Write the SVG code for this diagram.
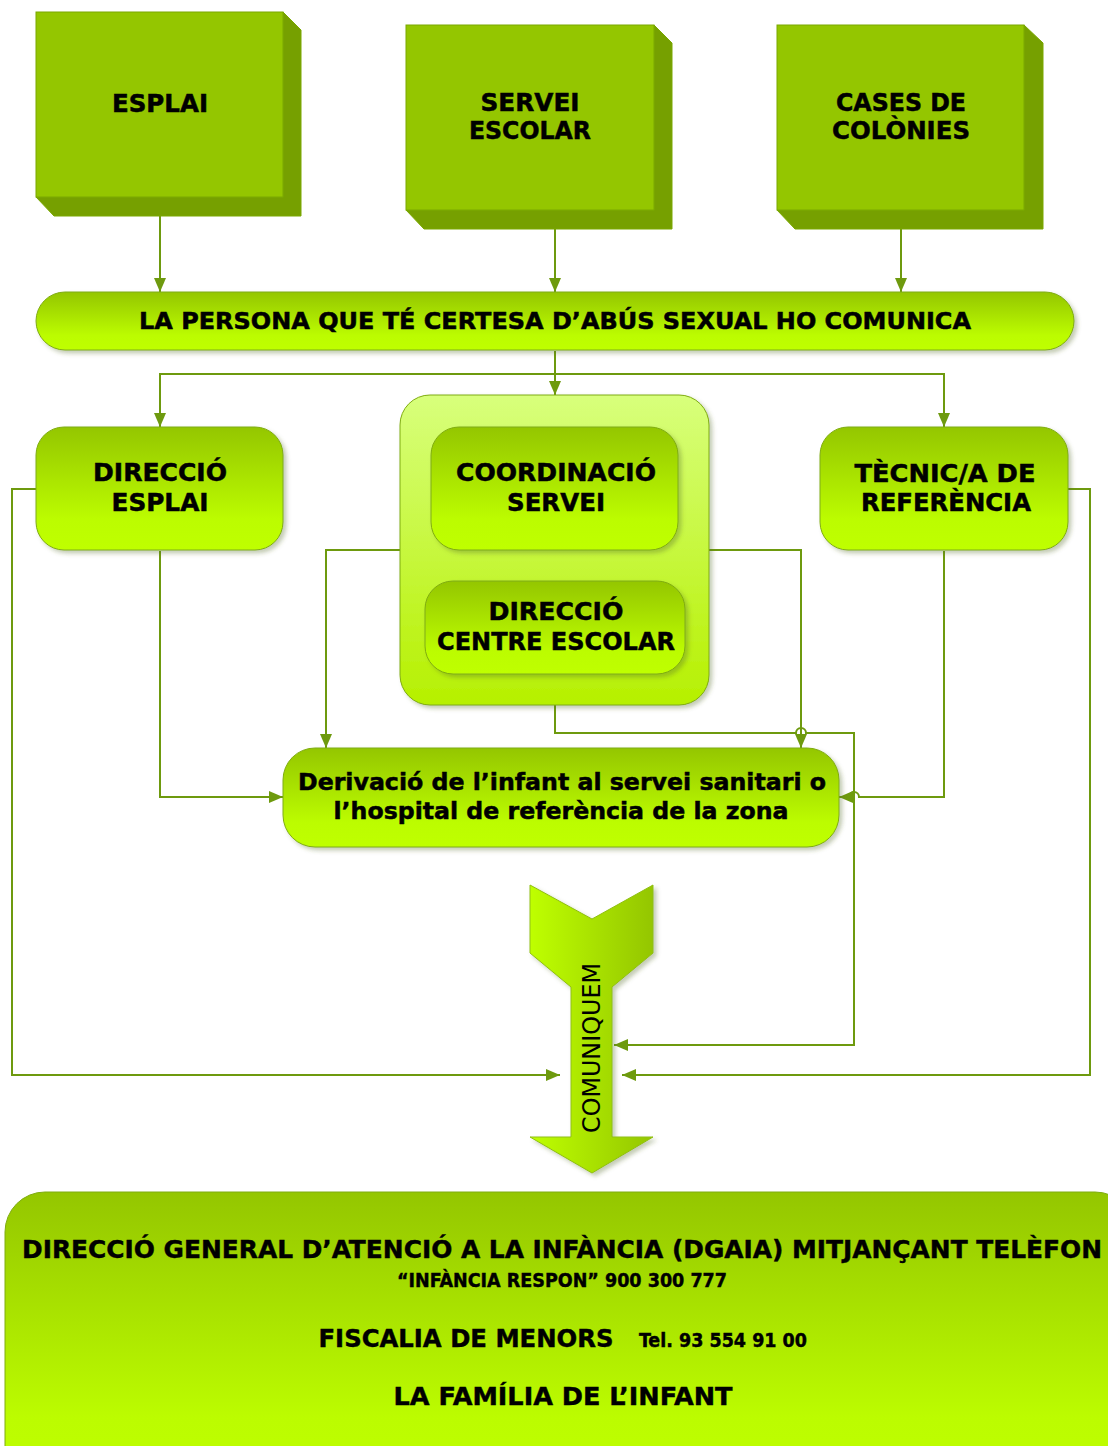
<svg xmlns="http://www.w3.org/2000/svg" width="1108" height="1446" viewBox="0 0 1108 1446">
<defs>
<linearGradient id="gv" x1="0" y1="0" x2="0" y2="1"><stop offset="0" stop-color="#94c600"/><stop offset="0.75" stop-color="#bcfc00"/><stop offset="1" stop-color="#bfff00"/></linearGradient>
<linearGradient id="gc" x1="0" y1="0" x2="0" y2="1"><stop offset="0" stop-color="#d8ff7c"/><stop offset="1" stop-color="#b6f000"/></linearGradient>
<linearGradient id="gh" x1="0" y1="0" x2="1" y2="0"><stop offset="0" stop-color="#bfff00"/><stop offset="1" stop-color="#94c600"/></linearGradient>
<filter id="sh" x="-10%" y="-10%" width="125%" height="130%"><feDropShadow dx="3" dy="3" stdDeviation="2" flood-color="#556b2f" flood-opacity="0.35"/></filter>
<marker id="ar" viewBox="0 0 14 12" refX="14" refY="6" markerWidth="14" markerHeight="12" markerUnits="userSpaceOnUse" orient="auto"><path d="M0,0 L14,6 L0,12 Z" fill="#6e9a0e"/></marker>
</defs>
<style>
.cube-f{fill:#94c600;stroke:#7aa800;stroke-width:1}
.cube-s{fill:#76a000;stroke:#7aa800;stroke-width:1}
.rb{fill:url(#gv);stroke:#7fac10;stroke-width:1;filter:url(#sh)}
.t{font-family:"DejaVu Sans","Verdana",sans-serif;font-weight:bold;fill:#000;stroke:#000;stroke-width:0.5;text-anchor:middle}
.tc{font-family:"DejaVu Sans Condensed","DejaVu Sans",sans-serif;font-weight:bold;fill:#000;stroke:#000;stroke-width:0.4;text-anchor:middle}
.c{fill:none;stroke:#6e9a0e;stroke-width:2}
</style>

<g id="connectors">
<path class="c" d="M160,198 V292" marker-end="url(#ar)"/>
<path class="c" d="M555,211 V292" marker-end="url(#ar)"/>
<path class="c" d="M901,211 V292" marker-end="url(#ar)"/>
<path class="c" d="M555,351 V395" marker-end="url(#ar)"/>
<path class="c" d="M555,374 H160 V427" marker-end="url(#ar)"/>
<path class="c" d="M555,374 H944 V427" marker-end="url(#ar)"/>
<path class="c" d="M36,489 H12 V1075 H560" marker-end="url(#ar)"/>
<path class="c" d="M160,551 V797 H283" marker-end="url(#ar)"/>
<path class="c" d="M400,550 H326 V748" marker-end="url(#ar)"/>
<path class="c" d="M709,550 H801 V748" marker-end="url(#ar)"/>
<path class="c" d="M555,705 V733 H796 A5,5 0 0 1 806,733 H854 V1045 H614" marker-end="url(#ar)"/>
<path class="c" d="M944,551 V797 H859 A5,5 0 0 0 849,797 H839" marker-end="url(#ar)"/>
<path class="c" d="M1068,489 H1090 V1075 H622" marker-end="url(#ar)"/>
</g>

<g id="esplai">
<polygon class="cube-s" points="283,12 301,30 301,216 54,216 36,197 283,197"/>
<rect class="cube-f" x="36" y="12" width="247" height="185"/>
<text class="t" x="160" y="112" font-size="24" textLength="96" lengthAdjust="spacingAndGlyphs">ESPLAI</text>
</g>
<g id="servei-escolar">
<polygon class="cube-s" points="654,25 672,43 672,229 424,229 406,210 654,210"/>
<rect class="cube-f" x="406" y="25" width="248" height="185"/>
<text class="t" x="530" y="111" font-size="24" textLength="99" lengthAdjust="spacingAndGlyphs">SERVEI</text>
<text class="t" x="530" y="139" font-size="24" textLength="122" lengthAdjust="spacingAndGlyphs">ESCOLAR</text>
</g>
<g id="cases-colonies">
<polygon class="cube-s" points="1024,25 1043,43 1043,229 795,229 777,210 1024,210"/>
<rect class="cube-f" x="777" y="25" width="247" height="185"/>
<text class="t" x="901" y="111" font-size="24" textLength="130" lengthAdjust="spacingAndGlyphs">CASES DE</text>
<text class="t" x="901" y="139" font-size="24" textLength="138" lengthAdjust="spacingAndGlyphs">COLÒNIES</text>
</g>

<g id="persona">
<rect class="rb" x="36" y="292" width="1038" height="58" rx="29"/>
<text class="t" x="555" y="329" font-size="23" textLength="832" lengthAdjust="spacingAndGlyphs">LA PERSONA QUE TÉ CERTESA D’ABÚS SEXUAL HO COMUNICA</text>
</g>

<g id="direccio-esplai">
<rect class="rb" x="36" y="427" width="247" height="123" rx="28"/>
<text class="t" x="160" y="481" font-size="25" textLength="134" lengthAdjust="spacingAndGlyphs">DIRECCIÓ</text>
<text class="t" x="160" y="511" font-size="25" textLength="97" lengthAdjust="spacingAndGlyphs">ESPLAI</text>
</g>

<g id="container">
<rect x="400" y="395" width="309" height="310" rx="30" fill="url(#gc)" stroke="#7fac10" stroke-width="1" filter="url(#sh)"/>
</g>
<g id="coordinacio">
<rect class="rb" x="431" y="427" width="247" height="123" rx="28"/>
<text class="t" x="556" y="481" font-size="25" textLength="200" lengthAdjust="spacingAndGlyphs">COORDINACIÓ</text>
<text class="t" x="556" y="511" font-size="25" textLength="98" lengthAdjust="spacingAndGlyphs">SERVEI</text>
</g>
<g id="direccio-centre">
<rect class="rb" x="425" y="581" width="260" height="93" rx="28"/>
<text class="t" x="556" y="620" font-size="25" textLength="135" lengthAdjust="spacingAndGlyphs">DIRECCIÓ</text>
<text class="t" x="556" y="650" font-size="25" textLength="238" lengthAdjust="spacingAndGlyphs">CENTRE ESCOLAR</text>
</g>

<g id="tecnic">
<rect class="rb" x="820" y="427" width="248" height="123" rx="28"/>
<text class="t" x="945" y="482" font-size="25" textLength="181" lengthAdjust="spacingAndGlyphs">TÈCNIC/A DE</text>
<text class="t" x="946" y="511" font-size="25" textLength="170" lengthAdjust="spacingAndGlyphs">REFERÈNCIA</text>
</g>

<g id="derivacio">
<rect class="rb" x="283" y="748" width="556" height="99" rx="32"/>
<text class="t" x="562" y="790" font-size="23" textLength="528" lengthAdjust="spacingAndGlyphs">Derivació de l’infant al servei sanitari o</text>
<text class="t" x="561" y="819" font-size="23" textLength="455" lengthAdjust="spacingAndGlyphs">l’hospital de referència de la zona</text>
</g>

<g id="comuniquem">
<polygon points="530,885 592,919 653,885 653,953 612,987 612,1137 653,1137 592,1173 530,1137 571,1137 571,987 530,953" fill="url(#gh)" stroke="#8fbf10" stroke-width="1" filter="url(#sh)"/>
<text transform="translate(600,1048) rotate(-90)" x="0" y="0" font-family="DejaVu Sans, Verdana, sans-serif" font-size="24" text-anchor="middle" textLength="170" lengthAdjust="spacingAndGlyphs" fill="#000">COMUNIQUEM</text>
</g>

<g id="destinataris">
<rect x="5" y="1192" width="1130" height="300" rx="40" fill="url(#gv)" stroke="#7fac10" stroke-width="1"/>
<text class="tc" x="562" y="1258" font-size="25" textLength="1080" lengthAdjust="spacingAndGlyphs">DIRECCIÓ GENERAL D’ATENCIÓ A LA INFÀNCIA (DGAIA) MITJANÇANT TELÈFON</text>
<text class="tc" x="562" y="1287" font-size="19" textLength="330" lengthAdjust="spacingAndGlyphs">“INFÀNCIA RESPON” 900 300 777</text>
<text class="tc" x="466" y="1347" font-size="25" textLength="295" lengthAdjust="spacingAndGlyphs">FISCALIA DE MENORS</text>
<text class="tc" x="723" y="1347" font-size="19" textLength="168" lengthAdjust="spacingAndGlyphs">Tel. 93 554 91 00</text>
<text class="tc" x="563" y="1405" font-size="25" textLength="339" lengthAdjust="spacingAndGlyphs">LA FAMÍLIA DE L’INFANT</text>
</g>
</svg>
